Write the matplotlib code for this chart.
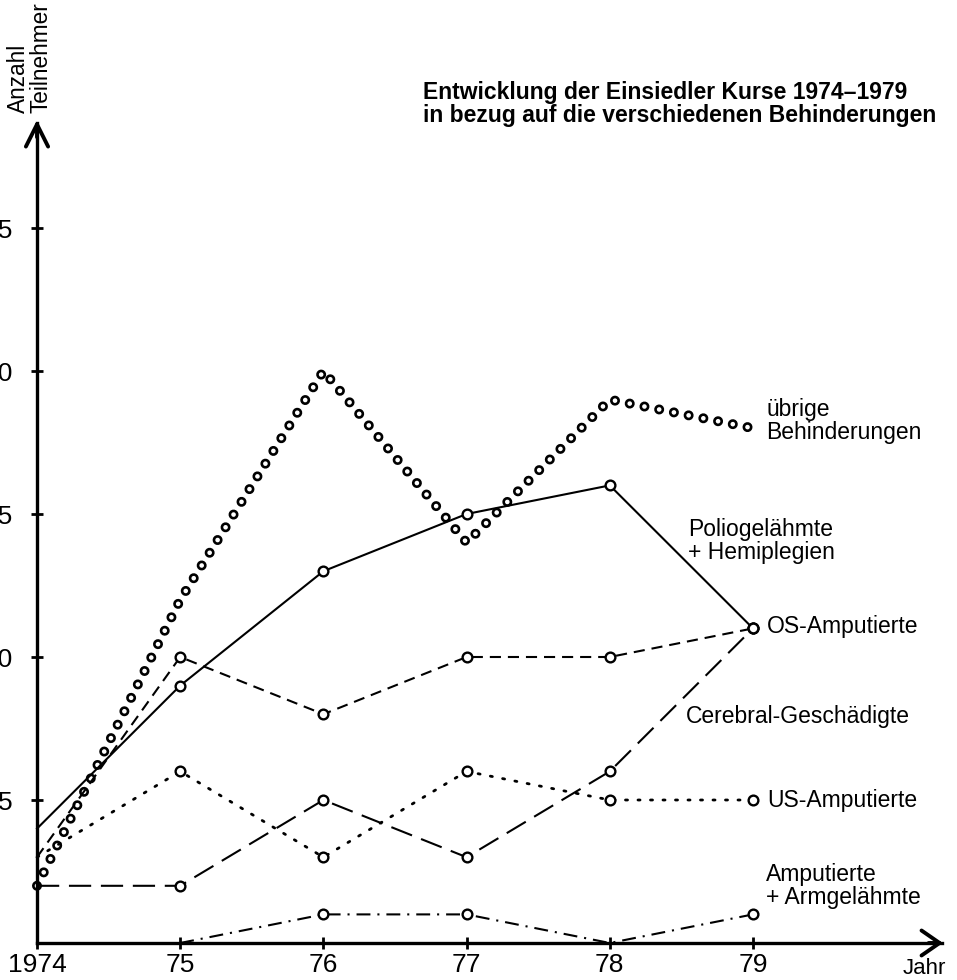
import matplotlib.pyplot as plt

plt.rcParams['font.family'] = ['Liberation Sans', 'DejaVu Sans']
plt.rcParams['lines.scale_dashes'] = False

W, H = 957, 980

years = [0, 1, 2, 3, 4, 5]
year_labels = ['1974', '75', '76', '77', '78', '79']
y_ticks = [5, 10, 15, 20, 25]

polio = [4, 9, 13, 15, 16, 11]
uebrige = [2, 12, 20, 14, 19, 18]
os_amp = [3, 10, 8, 10, 10, 11]
cerebral = [2, 2, 5, 3, 6, 11]
us_amp = [3, 6, 3, 6, 5, 5]
arm_years = [1, 2, 3, 4, 5]
arm = [0, 1, 1, 0, 1]

# where 1974 / zero sit in the picture, and px per year / per person
x0, dx = 37, 143.2
y0, dy = 943, 28.6


def px(x, y):
    return x / W, 1 - y / H


fig = plt.figure(figsize=(W / 100, H / 100), dpi=100)
ax = fig.add_axes([0, 0, 1, 1])
ax.set_xlim(-x0 / dx, (W - x0) / dx)
ax.set_ylim((y0 - H) / dy, y0 / dy)

# "uebrige Behinderungen": chain of little rings
ring = (0, (0.01, 10.8))
ax.plot(years, uebrige, color='black', lw=7.2, ls=ring, dash_capstyle='round')
ax.plot(years, uebrige, color='white', lw=3.4, ls=ring, dash_capstyle='round')

mk = dict(color='black', lw=1.5, marker='o', ms=7, mfc='white', mec='black', mew=1.7)
ax.plot(years, polio, ls='-', markevery=[1, 2, 3, 4, 5], **mk)
ax.plot(years, os_amp, ls=(0, (8, 5)), markevery=[1, 2, 3, 4, 5], **mk)
ax.plot(years, cerebral, ls=(0, (16, 7)), markevery=[1, 2, 3, 4, 5], **mk)
ax.plot(years, us_amp, ls=(0, (1.5, 7.5)), dash_capstyle='round',
        markevery=[1, 2, 3, 4, 5], **{**mk, 'lw': 2})
ax.plot(arm_years, arm, ls=(0, (10, 5, 1.5, 5)), markevery=[1, 2, 4], **mk)

# axes with arrows
for s in ['top', 'right']:
    ax.spines[s].set_visible(False)
ytip = (y0 - 120) / dy
xtip = (943 - x0) / dx
ax.spines['left'].set_position(('data', 0))
ax.spines['bottom'].set_position(('data', 0))
ax.spines['left'].set_bounds(0, ytip - 0.1)
ax.spines['bottom'].set_bounds(0, xtip - 0.01)
ax.spines['left'].set_linewidth(2.4)
ax.spines['bottom'].set_linewidth(2.4)

ax.annotate('', xy=(0, ytip), xytext=(0, ytip - 0.6),
            arrowprops=dict(arrowstyle='->,head_length=1.6,head_width=0.8',
                            lw=2.8, mutation_scale=10, shrinkA=0, shrinkB=0))
ax.annotate('', xy=(xtip, 0), xytext=(xtip - 0.1, 0),
            arrowprops=dict(arrowstyle='->,head_length=1.3,head_width=0.9',
                            lw=2.8, mutation_scale=10, shrinkA=0, shrinkB=0))

ax.set_xticks(years)
ax.set_xticklabels(year_labels)
ax.set_yticks(y_ticks)
ax.set_yticklabels([str(v) for v in y_ticks])
ax.tick_params(axis='x', direction='inout', length=9, width=2, labelsize=19, pad=3)
ax.tick_params(axis='y', direction='inout', length=9, width=2, labelsize=19, pad=13)

# texts
fig.text(*px(30, 113), 'Anzahl\nTeilnehmer', rotation=90, ha='center', va='bottom',
         multialignment='left', fontsize=16.3, linespacing=1.0)
fig.text(*px(423, 104), 'Entwicklung der Einsiedler Kurse 1974–1979\n'
         'in bezug auf die verschiedenen Behinderungen',
         fontweight='bold', fontsize=16.5, ha='left', va='center', linespacing=1.0)
fig.text(*px(903, 968), 'Jahr', fontsize=16, ha='left', va='center')

lab = dict(fontsize=16.5, ha='left', va='center', linespacing=1.05)
fig.text(*px(766, 421), 'übrige\nBehinderungen', **lab)
fig.text(*px(688, 541), 'Poliogelähmte\n+ Hemiplegien', **lab)
fig.text(*px(767, 627), 'OS-Amputierte', **lab)
fig.text(*px(686, 716), 'Cerebral-Geschädigte', **lab)
fig.text(*px(767, 800), 'US-Amputierte', **lab)
fig.text(*px(766, 886), 'Amputierte\n+ Armgelähmte', **lab)

fig.savefig('out.png', dpi=100)
